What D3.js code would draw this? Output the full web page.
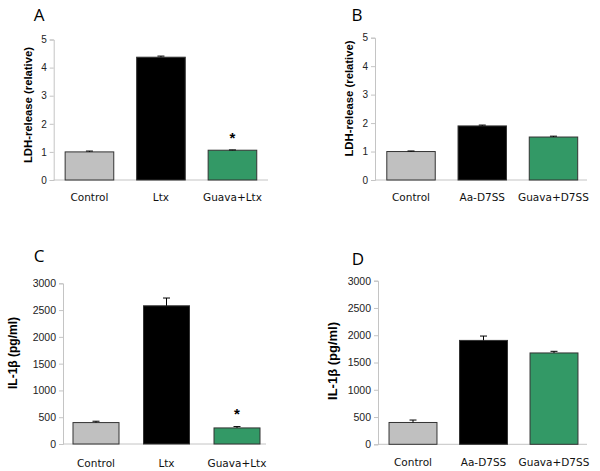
<!DOCTYPE html>
<html><head><meta charset="utf-8">
<script src="https://cdn.jsdelivr.net/npm/d3@7"></script>
<style>body{margin:0;background:#fff}svg{display:block}</style>
</head><body>
<svg id="c" width="600" height="471"></svg>
<script>
// ---- data ----
const catsAC = ["Control", "Ltx", "Guava+Ltx"];
const catsBD = ["Control", "Aa-D7SS", "Guava+D7SS"];
const ldhA = [1.00, 4.37, 1.06];
const ldhAerr = [0.03, 0.04, 0.01];
const ldhB = [1.00, 1.90, 1.51];
const ldhBerr = [0.02, 0.03, 0.03];
const il1bC = [400, 2580, 300];
const il1bCerr = [25, 145, 25];
const il1bD = [400, 1905, 1675];
const il1bDerr = [45, 80, 30];
const ldhTicks = [0, 1, 2, 3, 4, 5];
const ilTicks = [0, 500, 1000, 1500, 2000, 2500, 3000];
const sigAC = [false, false, true];
const sigBD = [false, false, false];
const barColors = ["#c0c0c0", "#000000", "#339966"];

const svg = d3.select("#c");

function panel(o) {
  const g = svg.append("g");
  const y = d3.scaleLinear().domain([0, o.max]).range([o.y0, o.yTop]);
  const x = d3.scaleBand().domain(o.cats).range(o.band).paddingInner(0.32).paddingOuter(0.16);
  // y axis
  const ax = g.append("g").attr("transform", `translate(${o.left},0)`)
    .call(d3.axisLeft(y).tickValues(o.ticks).tickSize(4).tickPadding(3).tickFormat(d3.format("d")));
  ax.select(".domain").attr("stroke", "#c4c4c4");
  ax.selectAll(".tick line").attr("stroke", "#c4c4c4");
  ax.selectAll("text").attr("font-family", "Liberation Sans, Arial, sans-serif")
    .attr("font-size", o.tickFs).attr("fill", "#222");
  // x baseline
  g.append("line").attr("x1", o.left).attr("x2", o.right).attr("y1", y(0)).attr("y2", y(0))
    .attr("stroke", "#c4c4c4");
  // bars
  const bw = o.bw || x.bandwidth();
  g.selectAll("rect.bar").data(o.vals).enter().append("rect")
    .attr("x", (d, i) => x(o.cats[i]) + x.bandwidth() / 2 - bw / 2)
    .attr("y", d => y(d)).attr("width", bw).attr("height", d => y(0) - y(d))
    .attr("fill", (d, i) => barColors[i]).attr("stroke", "#333").attr("stroke-width", 1);
  // error bars (upper)
  o.vals.forEach((v, i) => {
    const cx = x(o.cats[i]) + x.bandwidth() / 2;
    g.append("line").attr("x1", cx).attr("x2", cx).attr("y1", y(v)).attr("y2", y(v + o.err[i])).attr("stroke", "#000");
    g.append("line").attr("x1", cx - 3.5).attr("x2", cx + 3.5).attr("y1", y(v + o.err[i])).attr("y2", y(v + o.err[i])).attr("stroke", "#000");
    if (o.sig[i]) {
      g.append("text").attr("x", cx).attr("y", o.starY).attr("text-anchor", "middle")
        .attr("font-family", "Liberation Sans, Arial, sans-serif").attr("font-weight", "bold")
        .attr("font-size", 15).text("*");
    }
  });
  // category labels
  g.selectAll("text.cat").data(o.cats).enter().append("text")
    .attr("x", d => x(d) + x.bandwidth() / 2).attr("y", o.catY).attr("text-anchor", "middle")
    .attr("font-family", "DejaVu Sans, Verdana, sans-serif").attr("font-size", 10.5).attr("fill", "#111")
    .text(d => d);
  // y title
  g.append("text").attr("transform", `translate(${o.titleX},${o.titleY}) rotate(-90)`)
    .attr("text-anchor", "middle").attr("dominant-baseline", "central")
    .attr("font-family", "Liberation Sans, Arial, sans-serif").attr("font-weight", "bold")
    .attr("font-size", o.titleFs).text(o.title);
  // panel letter
  g.append("text").attr("x", o.letterX).attr("y", o.letterY).attr("text-anchor", "middle")
    .attr("font-family", "Open Sans, sans-serif").attr("font-size", 17).text(o.letter);
}

panel({cats: catsAC, vals: ldhA, err: ldhAerr, sig: sigAC, max: 5, ticks: ldhTicks,
  left: 53.7, right: 268, band: [53.7, 268.2], y0: 180, yTop: 39.5, tickFs: 10,
  catY: 201, title: "LDH-release (relative)", titleX: 28, titleY: 105, titleFs: 11.3,
  letter: "A", letterX: 39, letterY: 21, starY: 143});
panel({cats: catsBD, vals: ldhB, err: ldhBerr, sig: sigBD, max: 5, ticks: ldhTicks,
  left: 375, right: 587, band: [375.4, 589.1], y0: 180, yTop: 37.7, tickFs: 10,
  catY: 201, title: "LDH-release (relative)", titleX: 349, titleY: 98.5, titleFs: 11.3,
  letter: "B", letterX: 357, letterY: 21, starY: 0});
panel({cats: catsAC, vals: il1bC, err: il1bCerr, sig: sigAC, max: 3000, ticks: ilTicks,
  left: 63, right: 266, band: [60.75, 272.25], y0: 444, yTop: 283.3, tickFs: 10.5, bw: 46,
  catY: 467, title: "IL-1β (pg/ml)", titleX: 13, titleY: 353, titleFs: 12,
  letter: "C", letterX: 39, letterY: 262, starY: 419});
panel({cats: catsBD, vals: il1bD, err: il1bDerr, sig: sigBD, max: 3000, ticks: ilTicks,
  left: 378, right: 587, band: [377.75, 589.25], y0: 444.3, yTop: 280.7, tickFs: 10.5,
  catY: 466, title: "IL-1β (pg/ml)", titleX: 332, titleY: 361, titleFs: 13,
  letter: "D", letterX: 358, letterY: 265, starY: 0});
</script>
</body></html>
